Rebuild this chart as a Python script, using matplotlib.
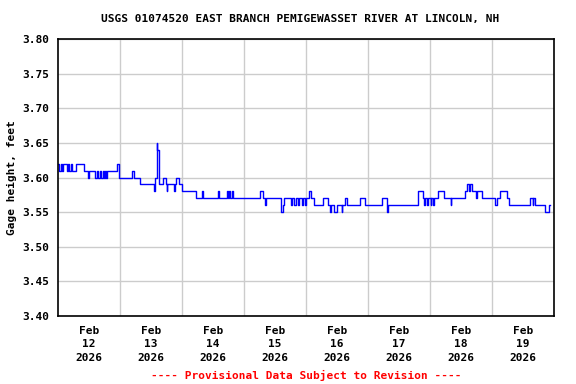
import pandas as pd
import matplotlib
matplotlib.use("Agg")
import matplotlib.pyplot as plt

# --- 資料：水位變化點（自 2026-02-12 00:00 起算的小時數, 呎） ---
change_hours = [
    0, 0.5, 1.0, 1.5, 1.75, 3.5, 4.0, 4.25, 5.0, 5.25, 7.0, 10.25, 11.5, 12.0,
    14.25, 15.0, 15.5, 16.25, 16.75, 17.5, 17.75, 18.25, 18.5, 19.0, 22.75, 23.5,
    23.75, 28.5, 29.5, 31.75, 37.25, 37.5, 38.25, 38.5, 39.0, 39.25, 40.75, 41.75,
    42.0, 42.25, 45.0, 45.25, 45.75, 46.75, 48.0, 53.25, 55.75, 56.25, 62.0, 62.5,
    65.25, 65.75, 66.25, 66.75, 67.25, 67.75, 78.0, 79.25, 80.0, 80.5, 86.5, 87.0,
    87.5, 90.25, 90.5, 91.5, 92.0, 93.0, 93.25, 94.5, 94.75, 95.5, 96.0, 97.0,
    98.0, 99.25, 102.75, 104.5, 105.25, 105.75, 107.0, 108.0, 109.75, 110.0, 111.0,
    112.0, 117.0, 118.75, 125.25, 127.25, 127.75, 139.5, 141.25, 141.75, 142.25,
    142.75, 143.25, 144.25, 144.5, 145.25, 145.5, 147.25, 149.25, 152.0, 152.25,
    157.5, 158.25, 159.0, 159.5, 160.25, 161.75, 162.25, 164.0, 169.25, 169.75,
    171.0, 173.75, 174.75, 182.75, 183.75, 184.0, 184.75, 188.5, 190.25, 190.5,
]
gage_ft = [
    3.62, 3.61, 3.62, 3.61, 3.62, 3.61, 3.62, 3.61, 3.62, 3.61, 3.62, 3.61, 3.60, 3.61,
    3.60, 3.61, 3.60, 3.61, 3.60, 3.61, 3.60, 3.61, 3.60, 3.61, 3.62, 3.61,
    3.60, 3.61, 3.60, 3.59, 3.58, 3.60, 3.65, 3.64, 3.60, 3.59, 3.60, 3.59,
    3.58, 3.59, 3.58, 3.59, 3.60, 3.59, 3.58, 3.57, 3.58, 3.57, 3.58, 3.57,
    3.58, 3.57, 3.58, 3.57, 3.58, 3.57, 3.58, 3.57, 3.56, 3.57, 3.55, 3.56,
    3.57, 3.56, 3.57, 3.56, 3.57, 3.56, 3.57, 3.56, 3.57, 3.56, 3.57, 3.58,
    3.57, 3.56, 3.57, 3.56, 3.55, 3.56, 3.55, 3.56, 3.55, 3.56, 3.57,
    3.56, 3.57, 3.56, 3.57, 3.55, 3.56, 3.58, 3.57, 3.56, 3.57,
    3.56, 3.57, 3.56, 3.57, 3.56, 3.57, 3.58, 3.57, 3.56, 3.57,
    3.58, 3.59, 3.58, 3.59, 3.58, 3.57, 3.58, 3.57, 3.56, 3.57,
    3.58, 3.57, 3.56, 3.57, 3.56, 3.57, 3.56, 3.55, 3.56, 3.56,
]
day_labels = ["Feb\n12\n2026", "Feb\n13\n2026", "Feb\n14\n2026", "Feb\n15\n2026",
              "Feb\n16\n2026", "Feb\n17\n2026", "Feb\n18\n2026", "Feb\n19\n2026"]
y_ticks = [3.40, 3.45, 3.50, 3.55, 3.60, 3.65, 3.70, 3.75, 3.80]

start = pd.Timestamp("2026-02-12")
times = start + pd.to_timedelta(change_hours, unit="h")
midnights = pd.date_range(start, periods=9, freq="D")
noons = midnights[:-1] + pd.Timedelta(hours=12)

plt.rcParams['font.family'] = ['DejaVu Sans Mono']
plt.rcParams['font.weight'] = 'bold'

fig = plt.figure(figsize=(5.76, 3.84), dpi=100)
ax = fig.add_axes([58 / 576, 68 / 384, 496 / 576, 277 / 384])

ax.step(times, gage_ft, where="post", color="#0000ff", linewidth=1)

ax.set_xlim(midnights[0], midnights[-1])
ax.set_ylim(3.40, 3.80)
ax.set_yticks(y_ticks)
ax.set_yticklabels([f"{v:.2f}" for v in y_ticks], fontsize=8, fontweight="bold")
ax.set_xticks(midnights[1:-1])
ax.set_xticklabels([])
ax.set_xticks(noons, minor=True)
ax.set_xticklabels(day_labels, minor=True, fontsize=8, fontweight="bold", linespacing=1.45)
ax.tick_params(axis="both", which="both", length=0)
ax.tick_params(axis="x", which="minor", pad=7)
ax.tick_params(axis="y", pad=6)

ax.grid(True, which="major", color="#cccccc", linewidth=1)
ax.set_axisbelow(True)
for s in ax.spines.values():
    s.set_linewidth(1.2)
    s.set_color("black")

ax.set_ylabel("Gage height, feet", fontsize=8, fontweight="bold", labelpad=4)
fig.text(300 / 576, 1 - 19 / 384, "USGS 01074520 EAST BRANCH PEMIGEWASSET RIVER AT LINCOLN, NH",
         ha="center", va="center", fontsize=8, fontweight="bold")
fig.text(306 / 576, 1 - 375 / 384, "---- Provisional Data Subject to Revision ----",
         ha="center", va="center", fontsize=8, fontweight="bold", color="red")

fig.savefig("out.png", dpi=100)
